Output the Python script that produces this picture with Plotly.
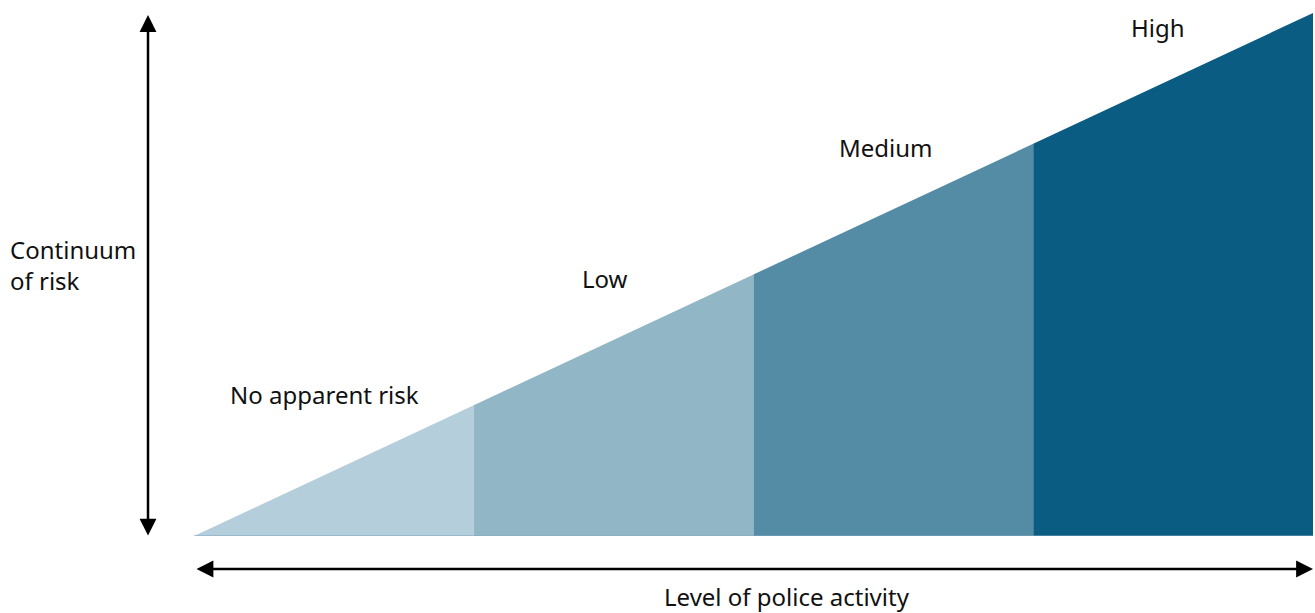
import plotly.graph_objects as go

# Data
categories = ["No apparent risk", "Low", "Medium", "High"]
activity_bounds = [0, 1, 2, 3, 4]          # level of police activity (segment edges)
risk_at_bounds = [0.0, 0.25, 0.5, 0.75, 1.0]  # continuum of risk at those edges
colors = ["#b5cedb", "#91b6c5", "#548ca6", "#0a5c82"]

fig = go.Figure()
for i, name in enumerate(categories):
    x0, x1 = activity_bounds[i], activity_bounds[i + 1]
    y0, y1 = risk_at_bounds[i], risk_at_bounds[i + 1]
    fig.add_trace(go.Scatter(
        x=[x0, x1, x1, x0, x0], y=[0, 0, y1, y0, 0],
        fill="toself", fillcolor=colors[i], mode="lines",
        line=dict(width=0, color=colors[i]), hoverinfo="skip", showlegend=False,
    ))

# thin base line
fig.add_trace(go.Scatter(x=[activity_bounds[0], activity_bounds[-1]], y=[0, 0], mode="lines",
                         line=dict(color="#7fa9bf", width=1), hoverinfo="skip", showlegend=False))

font = dict(family="Noto Sans, Open Sans, sans-serif", size=24, color="#111111")

# Category labels
label_x_off = [0.465, 0.469, 0.474, 0.446]
label_y = [0.27, 0.493, 0.742, 0.973]
for i, name in enumerate(categories):
    fig.add_annotation(x=activity_bounds[i] + label_x_off[i], y=label_y[i], text=name,
                       showarrow=False, xref="x", yref="y", font=font)

# Arrows (paper coords, tail offset in pixels)
fig.add_annotation(x=1.0, y=-0.063, ax=-1118, ay=0, xref="paper", yref="paper",
                   axref="pixel", ayref="pixel",
                   text="", showarrow=True, arrowhead=2, arrowside="end+start",
                   arrowsize=1.35, arrowwidth=2.5, arrowcolor="black", standoff=0, startstandoff=0)
fig.add_annotation(x=-0.0411, y=0.996, ax=0, ay=522, xref="paper", yref="paper",
                   axref="pixel", ayref="pixel",
                   text="", showarrow=True, arrowhead=2, arrowside="end+start",
                   arrowsize=1.35, arrowwidth=2.5, arrowcolor="black", standoff=0, startstandoff=0)

fig.add_annotation(x=-0.166, y=0.519, xref="paper", yref="paper", text="Continuum<br>of risk",
                   showarrow=False, xanchor="left", align="left", font=font)
fig.add_annotation(x=0.53, y=-0.151, xref="paper", yref="paper", text="Level of police activity",
                   showarrow=False, font=font)

fig.update_layout(
    width=1315, height=613,
    margin=dict(l=194, r=2, t=13, b=77),
    plot_bgcolor="white", paper_bgcolor="white",
    xaxis=dict(range=[0, 4], visible=False, fixedrange=True),
    yaxis=dict(range=[0, 1], visible=False, fixedrange=True),
)
fig.write_html("out.html", config={"displayModeBar": False},
               post_script="document.body.style.margin='0';document.body.style.overflow='hidden';")
